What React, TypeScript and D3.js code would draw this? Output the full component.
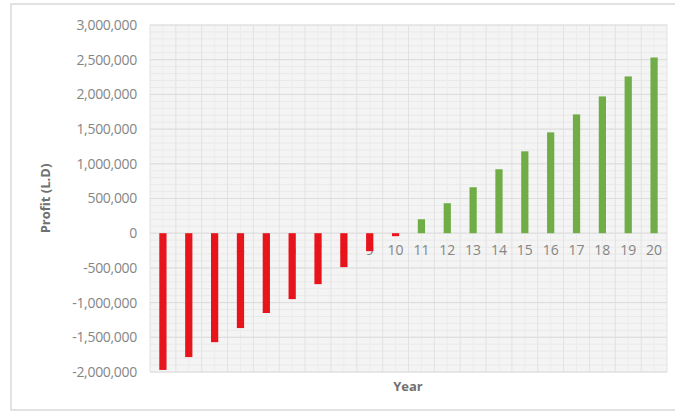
import React from "react";
import * as d3 from "d3";

const years = ["1","2","3","4","5","6","7","8","9","10","11","12","13","14","15","16","17","18","19","20"];
const profit = [-1970000,-1785000,-1570000,-1367000,-1150000,-950000,-734000,-489000,-259000,-43000,201000,432000,662000,921000,1180000,1453000,1712000,1971000,2259000,2532000];
const yTicks = [-2000000,-1500000,-1000000,-500000,0,500000,1000000,1500000,2000000,2500000,3000000];

export default function App() {
  const W = 675, H = 416;
  const left = 150, right = 667, top = 25, bottom = 372;
  const x = d3.scaleBand<string>().domain(years).range([left, right]).paddingInner(0.72).paddingOuter(0.36);
  const xb = d3.scaleBand<string>().domain(years).range([left, right]);
  const y = d3.scaleLinear().domain([-2000000, 3000000]).range([bottom, top]);
  const fmt = (v: number) => d3.format(",")(v).replace("\u2212", "-");
  const minor = d3.range(-2000000, 3000001, 100000);
  const font = "'Open Sans', 'DejaVu Sans', sans-serif";
  return (
    <svg width={W} height={H} style={{ position: "absolute", left: 0, top: 0, background: "#fff" }} fontFamily={font}>
      <rect x={11} y={4} width={W - 10} height={406} fill="#fff" stroke="#d9d9d9" strokeWidth={1.5} />
      <rect x={left} y={top} width={right - left} height={bottom - top} fill="#f4f4f4" />
      {minor.map((v) => (
        <line key={"m" + v} x1={left} x2={right} y1={y(v)} y2={y(v)} stroke="#e9e9e9" strokeWidth={1} />
      ))}
      {years.map((c) => (
        <line key={"v" + c} x1={xb(c)!} x2={xb(c)!} y1={top} y2={bottom} stroke="#e2e2e2" strokeWidth={1} />
      ))}
      {years.map((c) => (
        <line key={"vm" + c} x1={xb(c)! + xb.bandwidth() / 2} x2={xb(c)! + xb.bandwidth() / 2} y1={top} y2={bottom} stroke="#ececec" strokeWidth={1} />
      ))}
      <line x1={right} x2={right} y1={top} y2={bottom} stroke="#e2e2e2" />
      {yTicks.map((v) => (
        <line key={"g" + v} x1={left} x2={right} y1={y(v)} y2={y(v)} stroke="#dcdcdc" strokeWidth={1} />
      ))}
      {yTicks.map((v) => (
        <text key={"t" + v} x={137} y={y(v)} dy="0.35em" textAnchor="end" fontSize={14} letterSpacing={-0.3} fill="#858585">
          {fmt(v)}
        </text>
      ))}
      {years.map((c) => (
        <text key={"xl" + c} x={xb(c)! + xb.bandwidth() / 2} y={y(0) + 22} textAnchor="middle" fontSize={14} fill="#858585">
          {c}
        </text>
      ))}
      {years.map((c, i) => {
        const v = profit[i];
        return (
          <rect
            key={"b" + c}
            x={x(c)!}
            y={Math.min(y(v), y(0))}
            width={x.bandwidth()}
            height={Math.abs(y(v) - y(0))}
            fill={v < 0 ? "#e8141c" : "#70ad47"}
          />
        );
      })}
      <text x={408} y={391} textAnchor="middle" fontSize={13} fontWeight="bold" fill="#707070">Year</text>
      <text transform={`translate(50,${(top + bottom) / 2}) rotate(-90)`} textAnchor="middle" fontSize={13} fontWeight="bold" fill="#707070">
        Profit (L.D)
      </text>
    </svg>
  );
}
